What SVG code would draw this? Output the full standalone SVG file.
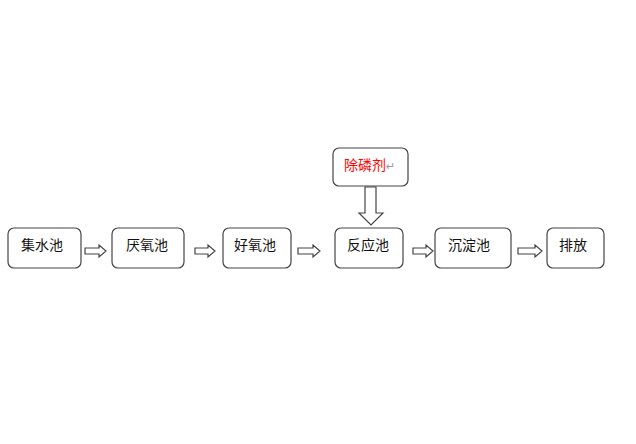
<svg xmlns="http://www.w3.org/2000/svg" width="636" height="444" viewBox="0 0 636 444">
<style>
.box{fill:#fff;stroke:#444;stroke-width:1.2}
.arr{fill:#fff;stroke:#444;stroke-width:1.2;stroke-linejoin:miter}
.t{font-family:"Noto Sans CJK SC","Liberation Sans",sans-serif;font-size:14px;fill:#111}
.r{fill:#ff0000}
.m{font-family:"DejaVu Sans",sans-serif;font-size:11px;fill:#999}
</style>
<rect width="636" height="444" fill="#fff"/>
<g id="connectors">
<path class="arr" d="M85,248 H99 V245 L106,251 L99,257 V254 H85 Z"/>
<path class="arr" d="M195,248 H208 V245 L215,251 L208,257 V254 H195 Z"/>
<path class="arr" d="M298,248 H313 V245 L320,251 L313,257 V254 H298 Z"/>
<path class="arr" d="M413,248 H426 V245 L433,251 L426,257 V254 H413 Z"/>
<path class="arr" d="M518,248 H535 V245 L542,251 L535,257 V254 H518 Z"/>
<path class="arr" d="M365,187 V213 H359 L371,225 L383,213 H376 V187 Z"/>
</g>
<g id="n1"><rect class="box" x="8" y="228" width="73" height="40" rx="6"/><text class="t" x="21" y="250">集水池</text></g>
<g id="n2"><rect class="box" x="112" y="228" width="72" height="40" rx="6"/><text class="t" x="126" y="250">厌氧池</text></g>
<g id="n3"><rect class="box" x="223" y="228" width="68" height="40" rx="6"/><text class="t" x="234" y="250">好氧池</text></g>
<g id="n4"><rect class="box" x="335" y="228" width="68" height="40" rx="6"/><text class="t" x="347" y="250">反应池</text></g>
<g id="n5"><rect class="box" x="435" y="228" width="76" height="40" rx="6"/><text class="t" x="448" y="250">沉淀池</text></g>
<g id="n6"><rect class="box" x="547" y="228" width="57" height="40" rx="6"/><text class="t" x="559" y="250">排放</text></g>
<g id="n7"><rect class="box" x="333" y="148" width="75" height="38" rx="6"/><text class="t r" x="344" y="170">除磷剂</text><text class="m" x="386" y="170">↵</text></g>
</svg>
